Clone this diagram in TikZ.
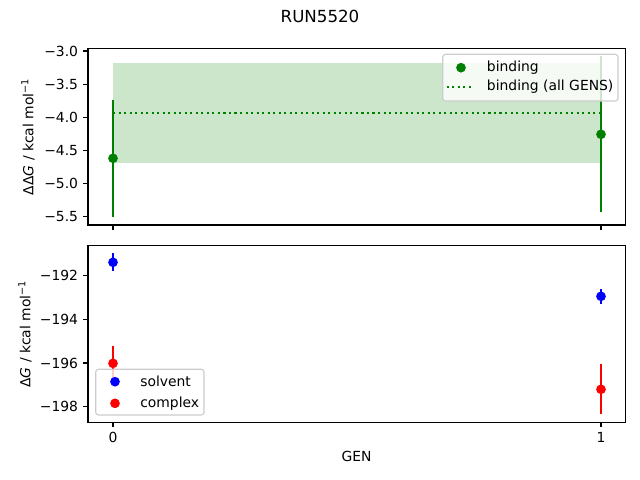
\documentclass[tikz,border=0pt]{standalone}
\usepackage{fontspec}
\setmainfont{DejaVu Sans}
\begin{document}
\begin{tikzpicture}[x=0.72pt,y=-0.72pt,
  frame/.style={line width=0.8pt,black},
  tickm/.style={line width=0.8pt,black},
  lbl/.style={font=\fontsize{10}{12}\selectfont,inner sep=0pt},
  ebar/.style={line width=1.5pt},
  dot/.style={circle,inner sep=0pt,minimum size=7pt},
  legbox/.style={draw=black!20,fill=white,fill opacity=0.8,rounded corners=2pt,line width=0.8pt}
]
\useasboundingbox (0,0) rectangle (640,480);
\definecolor{mgreen}{HTML}{008000}
\definecolor{mblue}{HTML}{0000FF}
\definecolor{mred}{HTML}{FF0000}

% title
\node[font=\fontsize{12}{14}\selectfont,inner sep=0pt] (title) at (320,16) {RUN5520};

% ---------- top axes ----------
\coordinate (tTL) at (88,48.3);
\coordinate (tBR) at (625.3,225);
% fill_between band
\fill[mgreen,opacity=0.2] (113,63.3) rectangle (601,163.3);
% mean dotted line
\draw[mgreen,line width=1.5pt,dash pattern=on 1.5pt off 2.475pt] (113,112.7) coordinate (m0) -- (601,112.7) coordinate (m1);
% error bars
\coordinate (g0a) at (113,100); \coordinate (g0b) at (113,216.7);
\draw[ebar,mgreen] (g0a) -- (g0b);
\node[dot,fill=mgreen] (g0) at (113,158.3) {};
\coordinate (g1a) at (601,56); \coordinate (g1b) at (601,211.7);
\draw[ebar,mgreen] (g1a) -- (g1b);
\node[dot,fill=mgreen] (g1) at (601,134.3) {};
% frame
\draw[frame] (tTL) rectangle (tBR);
% y ticks
\foreach \yy/\tl in {51/−3.0,84.1/−3.5,117.3/−4.0,150.4/−4.5,183.5/−5.0,216.7/−5.5}{
  \draw[tickm] (88,\yy) -- (83.14,\yy);
  \node[lbl,anchor=east] at (78.3,\yy) {\tl};
}
% x ticks (no labels)
\foreach \xx in {113,601}{ \draw[tickm] (\xx,225) -- (\xx,229.86); }
% ylabel
\node[lbl,rotate=90] (ylab1) at (28,136.7) {ΔΔ\textit{G} / kcal mol\textsuperscript{−1}};
% legend
\draw[legbox] (442.7,54.3) rectangle (618,101);
\node[dot,fill=mgreen] (lg1) at (461,67.7) {};
\node[lbl,anchor=west] (lt1) at (486.7,67.7) {binding};
\coordinate (ld0) at (446.7,86.7); \coordinate (ld1) at (474.3,86.7);
\draw[mgreen,line width=1.5pt,dash pattern=on 1.5pt off 2.475pt] (ld0) -- (ld1);
\node[lbl,anchor=west] (lt2) at (486.7,86.7) {binding (all GENS)};

% ---------- bottom axes ----------
\coordinate (bTL) at (88,245.7);
\coordinate (bBR) at (625.3,422.3);
\coordinate (b0a) at (113,253.3); \coordinate (b0b) at (113,270.7);
\draw[ebar,mblue] (b0a) -- (b0b);
\node[dot,fill=mblue] (b0) at (113,262.3) {};
\coordinate (b1a) at (601,289); \coordinate (b1b) at (601,304);
\draw[ebar,mblue] (b1a) -- (b1b);
\node[dot,fill=mblue] (b1) at (601,296.3) {};
\coordinate (r0a) at (113,345.7); \coordinate (r0b) at (113,381);
\draw[ebar,mred] (r0a) -- (r0b);
\node[dot,fill=mred] (r0) at (113,363.3) {};
\coordinate (r1a) at (601,364); \coordinate (r1b) at (601,414);
\draw[ebar,mred] (r1a) -- (r1b);
\node[dot,fill=mred] (r1) at (601,389.3) {};
\draw[frame] (bTL) rectangle (bBR);
\foreach \yy/\tl in {275.7/−192,319.4/−194,363.0/−196,406.7/−198}{
  \draw[tickm] (88,\yy) -- (83.14,\yy);
  \node[lbl,anchor=east] at (78.3,\yy) {\tl};
}
\foreach \xx/\tl in {113/0,601/1}{
  \draw[tickm] (\xx,422.3) -- (\xx,427.16);
  \node[lbl,anchor=north] at (\xx,432.0) {\tl};
}
\node[lbl,rotate=90] (ylab2) at (25,334) {Δ\textit{G} / kcal mol\textsuperscript{−1}};
\node[lbl] (xlab) at (356.5,456.7) {GEN};
% legend
\draw[legbox] (95.7,369.3) rectangle (204,415);
\node[dot,fill=mblue] (lb1) at (115,381.7) {};
\node[lbl,anchor=west] (lbt1) at (140,381.7) {solvent};
\node[dot,fill=mred] (lb2) at (115,403.3) {};
\node[lbl,anchor=west] (lbt2) at (140,403.3) {complex};
\end{tikzpicture}
\end{document}
